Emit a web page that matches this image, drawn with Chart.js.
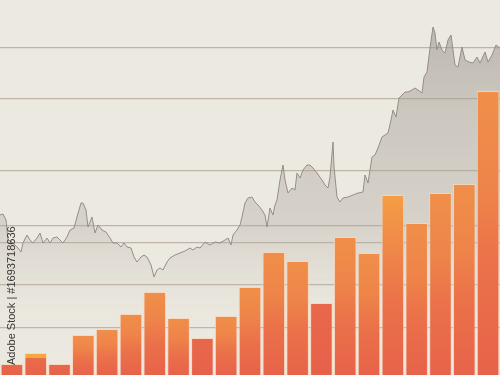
<!DOCTYPE html>
<html>
<head>
<meta charset="utf-8">
<script src="https://cdn.jsdelivr.net/npm/chart.js@4/dist/chart.umd.min.js"></script>
<style>
  html, body { margin: 0; padding: 0; background: #ece9e0; }
  #wrap { width: 500px; height: 375px; position: relative; }
</style>
</head>
<body>
<div id="wrap"><canvas id="chart"></canvas></div>
<script>
// volume bars, one per period
var periods = ["P1","P2","P3","P4","P5","P6","P7","P8","P9","P10","P11",
               "P12","P13","P14","P15","P16","P17","P18","P19","P20","P21"];
var volume = [11, 22, 11, 40, 46, 61, 83, 57, 37, 59, 88,
              123, 114, 72, 138, 122, 180, 152, 182, 191, 284];
// colour tone of each bar's top
var barTone = ["red", "cap", "red", "orange", "orange", "orange", "orange", "orange", "red", "orange", "orange",
               "orange", "orange", "red", "orange", "orange", "light", "orange", "orange", "orange", "orange"];

// price line: day and price
var days = [0, 3, 6, 8, 12, 15, 18, 21, 23, 27, 30, 33, 37, 40, 43, 47, 50, 53, 57, 60,
            63, 67, 70, 74, 77, 81, 83, 86, 88, 92, 95, 98, 102, 106, 110, 113, 117, 121, 124, 127,
            131, 134, 137, 141, 144, 147, 151, 154, 157, 160, 163, 167, 170, 175, 180, 185, 190, 193, 197, 200,
            205, 210, 215, 220, 225, 228, 231, 233, 237, 240, 242, 245, 248, 252, 255, 258, 262, 265, 267, 270,
            273, 275, 277, 280, 283, 285, 288, 292, 295, 297, 300, 303, 307, 310, 313, 317, 322, 325, 328, 330,
            333, 334, 337, 340, 343, 348, 353, 358, 363, 365, 368, 372, 375, 378, 382, 385, 388, 391, 393, 396,
            399, 402, 405, 408, 412, 415, 418, 422, 424, 427, 430, 433, 435, 437, 439, 442, 445, 448, 451, 453,
            455, 458, 462, 465, 469, 473, 477, 480, 485, 488, 492, 496, 500];
var price = [160, 161, 155, 135, 133, 130, 127, 123, 132, 140, 135, 132, 137, 142, 132, 137, 132, 137, 138, 135,
             132, 138, 145, 147, 158, 172, 172, 165, 148, 158, 142, 150, 145, 143, 137, 132, 132, 128, 132, 128,
             127, 118, 113, 118, 120, 118, 110, 98, 105, 107, 105, 113, 117, 120, 122, 124, 127, 125, 128, 127,
             133, 130, 133, 132, 135, 137, 130, 140, 145, 150, 158, 172, 177, 178, 173, 170, 165, 160, 148, 167,
             160, 170, 175, 195, 210, 195, 182, 187, 185, 202, 197, 205, 210, 210, 207, 202, 195, 190, 187, 198,
             233, 208, 178, 173, 177, 178, 180, 182, 183, 200, 192, 218, 220, 227, 238, 240, 242, 255, 265, 258,
             277, 280, 283, 283, 285, 287, 285, 282, 298, 303, 327, 348, 342, 325, 333, 325, 322, 335, 340, 325,
             310, 308, 328, 315, 313, 312, 318, 312, 323, 313, 320, 330, 327];

// horizontal guide levels
var guideLevels = [47, 90, 132, 149, 204, 276, 327];

var linePoints = days.map(function (d, i) { return { x: d, y: price[i] }; });

var verticalLabel = {
  id: 'verticalLabel',
  afterDraw: function (chart) {
    var c = chart.ctx;
    c.save();
    c.translate(12, 365);
    c.rotate(-Math.PI / 2);
    c.fillStyle = '#3a3632';
    c.font = '11px "Liberation Sans", Arial, sans-serif';
    c.textBaseline = 'middle';
    c.fillText('Adobe Stock | #1693718636', 0, 0);
    c.restore();
  }
};

var topColors = { orange: '#f08f49', light: '#f59d45', red: '#e8674a', cap: '#e8674a' };

function barGradient(context) {
  var chart = context.chart;
  var area = chart.chartArea;
  if (!area || context.dataIndex === undefined) return '#ec7a48';
  var yScale = chart.scales.y;
  var top = yScale.getPixelForValue(volume[context.dataIndex]);
  var bottom = area.bottom;
  var tone = barTone[context.dataIndex];
  var g = chart.ctx.createLinearGradient(0, top, 0, bottom);
  if (tone === 'cap') {
    g.addColorStop(0, '#f5a83e');
    g.addColorStop(0.22, '#f5a83e');
    g.addColorStop(0.24, '#e96d4a');
    g.addColorStop(1, '#e7624a');
  } else if (tone === 'red') {
    g.addColorStop(0, '#e8684a');
    g.addColorStop(1, '#e7614a');
  } else {
    g.addColorStop(0, topColors[tone]);
    g.addColorStop(0.35, '#ee8449');
    g.addColorStop(0.6, '#eb7249');
    g.addColorStop(1, '#e7624a');
  }
  return g;
}

function areaGradient(context) {
  var area = context.chart.chartArea;
  if (!area) return 'rgba(180,174,167,0.4)';
  var g = context.chart.ctx.createLinearGradient(0, area.top, 0, area.bottom);
  g.addColorStop(0, 'rgba(150,142,135,0.6)');
  g.addColorStop(0.3, 'rgba(165,158,150,0.45)');
  g.addColorStop(0.6, 'rgba(175,168,160,0.35)');
  g.addColorStop(0.76, 'rgba(195,190,183,0.15)');
  g.addColorStop(0.86, 'rgba(220,216,210,0.03)');
  g.addColorStop(1, 'rgba(220,216,210,0)');
  return g;
}

var ctx = document.getElementById('chart');
var chart = new Chart(ctx, {
  data: {
    labels: periods,
    datasets: [
      {
        type: 'line',
        label: 'Price',
        data: linePoints,
        xAxisID: 'x2',
        borderColor: '#958d86',
        borderWidth: 1,
        pointRadius: 0,
        tension: 0,
        fill: 'origin',
        backgroundColor: areaGradient,
        order: 2
      },
      {
        type: 'bar',
        label: 'Volume',
        data: volume,
        xAxisID: 'x',
        grouped: false,
        backgroundColor: barGradient,
        borderColor: 'rgba(248,214,186,0.85)',
        borderWidth: 1,
        categoryPercentage: 1,
        barPercentage: 0.95,
        order: 1
      }
    ]
  },
  options: {
    responsive: true,
    maintainAspectRatio: false,
    animation: false,
    layout: { padding: 0 },
    plugins: { legend: { display: false }, tooltip: { enabled: false } },
    scales: {
      x: { display: false, offset: true },
      x2: { type: 'linear', display: false, min: 0, max: 500 },
      y: {
        min: 0,
        max: 375,
        border: { display: false },
        ticks: { display: false },
        grid: { color: '#bdb3aa', lineWidth: 1.3, drawTicks: false },
        afterBuildTicks: function (axis) {
          axis.ticks = guideLevels.map(function (v) { return { value: v }; });
        },
        afterFit: function (axis) { axis.width = 0; }
      }
    }
  },
  plugins: [verticalLabel]
});
</script>
</body>
</html>
